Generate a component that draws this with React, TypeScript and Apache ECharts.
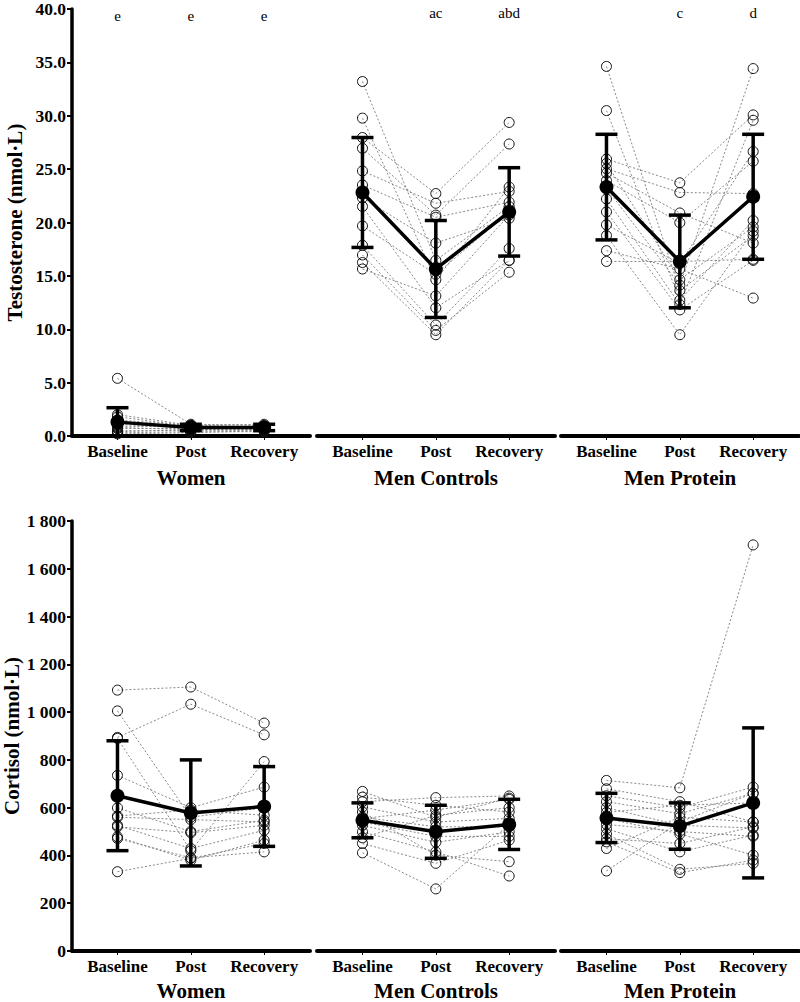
import React, { useEffect, useRef } from "react";
import * as echarts from "echarts";

const timePoints = ["Baseline", "Post", "Recovery"];
const groupNames = ["Women", "Men Controls", "Men Protein"];

// Testosterone (nmol·L) – individual subjects
const tWomenBaseline = [5.4, 2.0, 1.8, 1.5, 1.3, 1.1, 0.9, 0.8, 0.7, 0.5, 0.4, 0.3, 0.2];
const tWomenPost = [1.1, 1.0, 0.9, 1.0, 0.8, 0.7, 0.9, 0.6, 0.7, 0.5, 0.6, 0.4, 0.3];
const tWomenRecovery = [1.0, 1.1, 0.9, 0.8, 0.9, 0.7, 0.8, 0.6, 0.7, 0.5, 0.6, 0.4, 0.5];

const tControlsBaseline = [32.9, 29.5, 27.7, 26.7, 24.6, 23.3, 22.1, 21.3, 19.5, 17.7, 16.8, 16.1, 15.5];
const tControlsPost = [16.3, 14.5, 22.5, 20.5, 21.6, 20.3, 17.9, 11.9, 15.0, 10.3, 9.8, 9.4, 13.0];
const tControlsRecovery = [21.3, 23.1, 29.1, 27.1, 22.7, 21.7, 20.2, 16.3, 20.8, 17.4, 15.2, 16.3, 20.5];

const tProteinBaseline = [34.3, 30.2, 25.7, 25.3, 24.8, 24.4, 23.7, 23.0, 20.8, 19.6, 18.6, 17.2, 16.2, 22.0];
const tProteinPost = [13.5, 12.6, 23.5, 14.5, 22.6, 20.7, 19.8, 14.0, 11.7, 16.0, 9.4, 15.5, 16.2, 12.2];
const tProteinRecovery = [18.6, 20.0, 29.8, 19.4, 22.5, 17.9, 25.5, 34.1, 16.3, 26.4, 19.0, 12.8, 16.4, 29.3];

// Testosterone group means and SD
const tWomenMean = [1.3, 0.8, 0.8];
const tWomenSD = [1.35, 0.3, 0.3];
const tControlsMean = [22.6, 15.5, 20.8];
const tControlsSD = [5.1, 4.5, 4.1];
const tProteinMean = [23.1, 16.2, 22.2];
const tProteinSD = [4.9, 4.3, 5.8];

// Significance letters above testosterone panels
const tWomenLetters = ["e", "e", "e"];
const tControlsLetters = ["", "ac", "abd"];
const tProteinLetters = ["", "c", "d"];

// Cortisol (nmol·L) – individual subjects
const cWomenBaseline = [1092, 1005, 894, 890, 735, 599, 565, 526, 520, 478, 471, 332, 560];
const cWomenPost = [1105, 560, 1033, 420, 600, 500, 590, 429, 495, 380, 390, 388, 550];
const cWomenRecovery = [954, 600, 905, 793, 686, 547, 568, 505, 526, 464, 415, 450, 540];

const cControlsBaseline = [668, 644, 625, 603, 582, 554, 526, 499, 474, 450, 411, 560, 540];
const cControlsPost = [560, 610, 642, 540, 401, 590, 455, 415, 568, 367, 260, 520, 480];
const cControlsRecovery = [640, 582, 649, 555, 374, 635, 499, 314, 600, 464, 530, 520, 480];

const cProteinBaseline = [714, 679, 650, 625, 600, 554, 512, 490, 457, 429, 335, 580, 530, 470];
const cProteinPost = [683, 625, 600, 575, 526, 490, 415, 342, 328, 560, 540, 610, 500, 450];
const cProteinRecovery = [1700, 540, 686, 660, 515, 401, 485, 367, 380, 540, 660, 620, 480, 520];

// Cortisol group means and SD
const cWomenMean = [650, 578, 605];
const cWomenSD = [230, 222, 167];
const cControlsMean = [547, 499, 530];
const cControlsSD = [73, 111, 105];
const cProteinMean = [557, 523, 620];
const cProteinSD = [103, 97, 314];

const tTicks = { min: 0, max: 40, interval: 5 };
const cTicks = { min: 0, max: 1800, interval: 200 };

const FONT = '"Liberation Serif", "Times New Roman", serif';

type Panel = {
  b: number[];
  p: number[];
  r: number[];
  mean: number[];
  sd: number[];
  letters?: string[];
};

export default function App() {
  const ref = useRef<HTMLDivElement>(null);

  useEffect(() => {
    document.body.style.margin = "0";
    if (!ref.current) return;
    const chart = echarts.init(ref.current, null, { renderer: "svg" });

    const rows: Panel[][] = [
      [
        { b: tWomenBaseline, p: tWomenPost, r: tWomenRecovery, mean: tWomenMean, sd: tWomenSD, letters: tWomenLetters },
        { b: tControlsBaseline, p: tControlsPost, r: tControlsRecovery, mean: tControlsMean, sd: tControlsSD, letters: tControlsLetters },
        { b: tProteinBaseline, p: tProteinPost, r: tProteinRecovery, mean: tProteinMean, sd: tProteinSD, letters: tProteinLetters },
      ],
      [
        { b: cWomenBaseline, p: cWomenPost, r: cWomenRecovery, mean: cWomenMean, sd: cWomenSD },
        { b: cControlsBaseline, p: cControlsPost, r: cControlsRecovery, mean: cControlsMean, sd: cControlsSD },
        { b: cProteinBaseline, p: cProteinPost, r: cProteinRecovery, mean: cProteinMean, sd: cProteinSD },
      ],
    ];

    const gridLefts = [72, 317, 561];
    const gridWidth = 238;
    const rowTops = [5, 521];
    const rowHeights = [431, 432];
    const yNames = ["Testosterone (nmol·L)", "Cortisol (nmol·L)"];
    const titleGaps = [31, 29];

    const grids: any[] = [];
    const xAxes: any[] = [];
    const yAxes: any[] = [];
    const series: any[] = [];

    const cortFmt = (v: number) =>
      v >= 1000 ? `${Math.floor(v / 1000)} ${String(v % 1000).padStart(3, "0")}` : String(v);

    rows.forEach((row, ri) => {
      const ticks = ri === 0 ? tTicks : cTicks;
      row.forEach((panel, ci) => {
        const gi = grids.length;
        grids.push({
          left: gridLefts[ci],
          top: rowTops[ri],
          width: gridWidth,
          height: rowHeights[ri],
          containLabel: false,
        });
        xAxes.push({
          type: "value",
          gridIndex: gi,
          min: -0.62,
          max: 2.625,
          axisLine: { show: true, onZero: false, lineStyle: { color: "#000", width: 4 } },
          axisTick: { show: true, customValues: [0, 1, 2], length: 4, lineStyle: { color: "#000", width: 1 } },
          axisLabel: {
            customValues: [0, 1, 2],
            formatter: (v: number) => timePoints[Math.round(v)],
            fontFamily: FONT,
            fontWeight: "bold",
            fontSize: 17,
            color: "#000",
            margin: 7,
          },
          splitLine: { show: false },
          name: groupNames[ci],
          nameLocation: "middle",
          nameGap: titleGaps[ri],
          nameTextStyle: { fontFamily: FONT, fontWeight: "bold", fontSize: 21, color: "#000" },
        });
        yAxes.push({
          type: "value",
          gridIndex: gi,
          min: ticks.min,
          max: ticks.max,
          interval: ticks.interval,
          show: ci === 0,
          axisLine: { show: true, onZero: false, lineStyle: { color: "#000", width: 3.5 } },
          axisTick: { show: true, length: 5, lineStyle: { color: "#000", width: 2 } },
          axisLabel: {
            formatter: ri === 0 ? (v: number) => v.toFixed(1) : cortFmt,
            fontFamily: FONT,
            fontWeight: "bold",
            fontSize: 17.5,
            color: "#000",
            margin: 6,
          },
          splitLine: { show: false },
          name: ci === 0 ? yNames[ri] : "",
          nameLocation: "middle",
          nameGap: 47,
          nameTextStyle: { fontFamily: FONT, fontWeight: "bold", fontSize: 21, color: "#000" },
        });

        // individual subjects
        panel.b.forEach((bv, si) => {
          series.push({
            type: "line",
            xAxisIndex: gi,
            yAxisIndex: gi,
            data: [
              [0, bv],
              [1, panel.p[si]],
              [2, panel.r[si]],
            ],
            symbol: "circle",
            symbolSize: 10,
            itemStyle: { color: "rgba(255,255,255,0)", borderColor: "#111", borderWidth: 1 },
            lineStyle: { color: "#7a7a7a", width: 0.9, type: [2, 2] },
            z: 2,
            silent: true,
          });
        });

        // mean line
        series.push({
          type: "line",
          xAxisIndex: gi,
          yAxisIndex: gi,
          data: panel.mean.map((m, i) => [i, m]),
          symbol: "circle",
          symbolSize: 14,
          itemStyle: { color: "#000" },
          lineStyle: { color: "#000", width: 3.5 },
          z: 5,
          silent: true,
        });

        // error bars
        series.push({
          type: "custom",
          xAxisIndex: gi,
          yAxisIndex: gi,
          data: panel.mean.map((m, i) => [i, m, panel.sd[i]]),
          encode: { x: 0, y: 1 },
          clip: false,
          z: 6,
          silent: true,
          renderItem: (params: any, api: any) => {
            const x = api.value(0);
            const m = api.value(1);
            const s = api.value(2);
            const top = api.coord([x, m + s]);
            const bot = api.coord([x, Math.max(m - s, 0)]);
            const w = 11;
            const st = { stroke: "#000", lineWidth: 3.5 };
            return {
              type: "group",
              children: [
                { type: "line", shape: { x1: top[0], y1: top[1], x2: bot[0], y2: bot[1] }, style: st },
                { type: "line", shape: { x1: top[0] - w, y1: top[1], x2: top[0] + w, y2: top[1] }, style: st },
                { type: "line", shape: { x1: bot[0] - w, y1: bot[1], x2: bot[0] + w, y2: bot[1] }, style: st },
              ],
            };
          },
        });

        // significance letters
        if (panel.letters) {
          series.push({
            type: "scatter",
            xAxisIndex: gi,
            yAxisIndex: gi,
            data: panel.letters.map((l, i) => [i, 38.6, l]),
            symbol: "circle",
            symbolSize: 0.01,
            itemStyle: { color: "#000", opacity: 0 },
            label: {
              show: true,
              position: "top",
              distance: 0,
              formatter: (p: any) => p.data[2],
              fontFamily: FONT,
              fontSize: 15,
              color: "#000",
              opacity: 1,
            },
            silent: true,
            z: 7,
          });
        }
      });
    });

    chart.setOption({
      animation: false,
      backgroundColor: "#fff",
      grid: grids,
      xAxis: xAxes,
      yAxis: yAxes,
      series,
    });

    return () => chart.dispose();
  }, []);

  return <div ref={ref} style={{ width: 800, height: 1002 }} />;
}
